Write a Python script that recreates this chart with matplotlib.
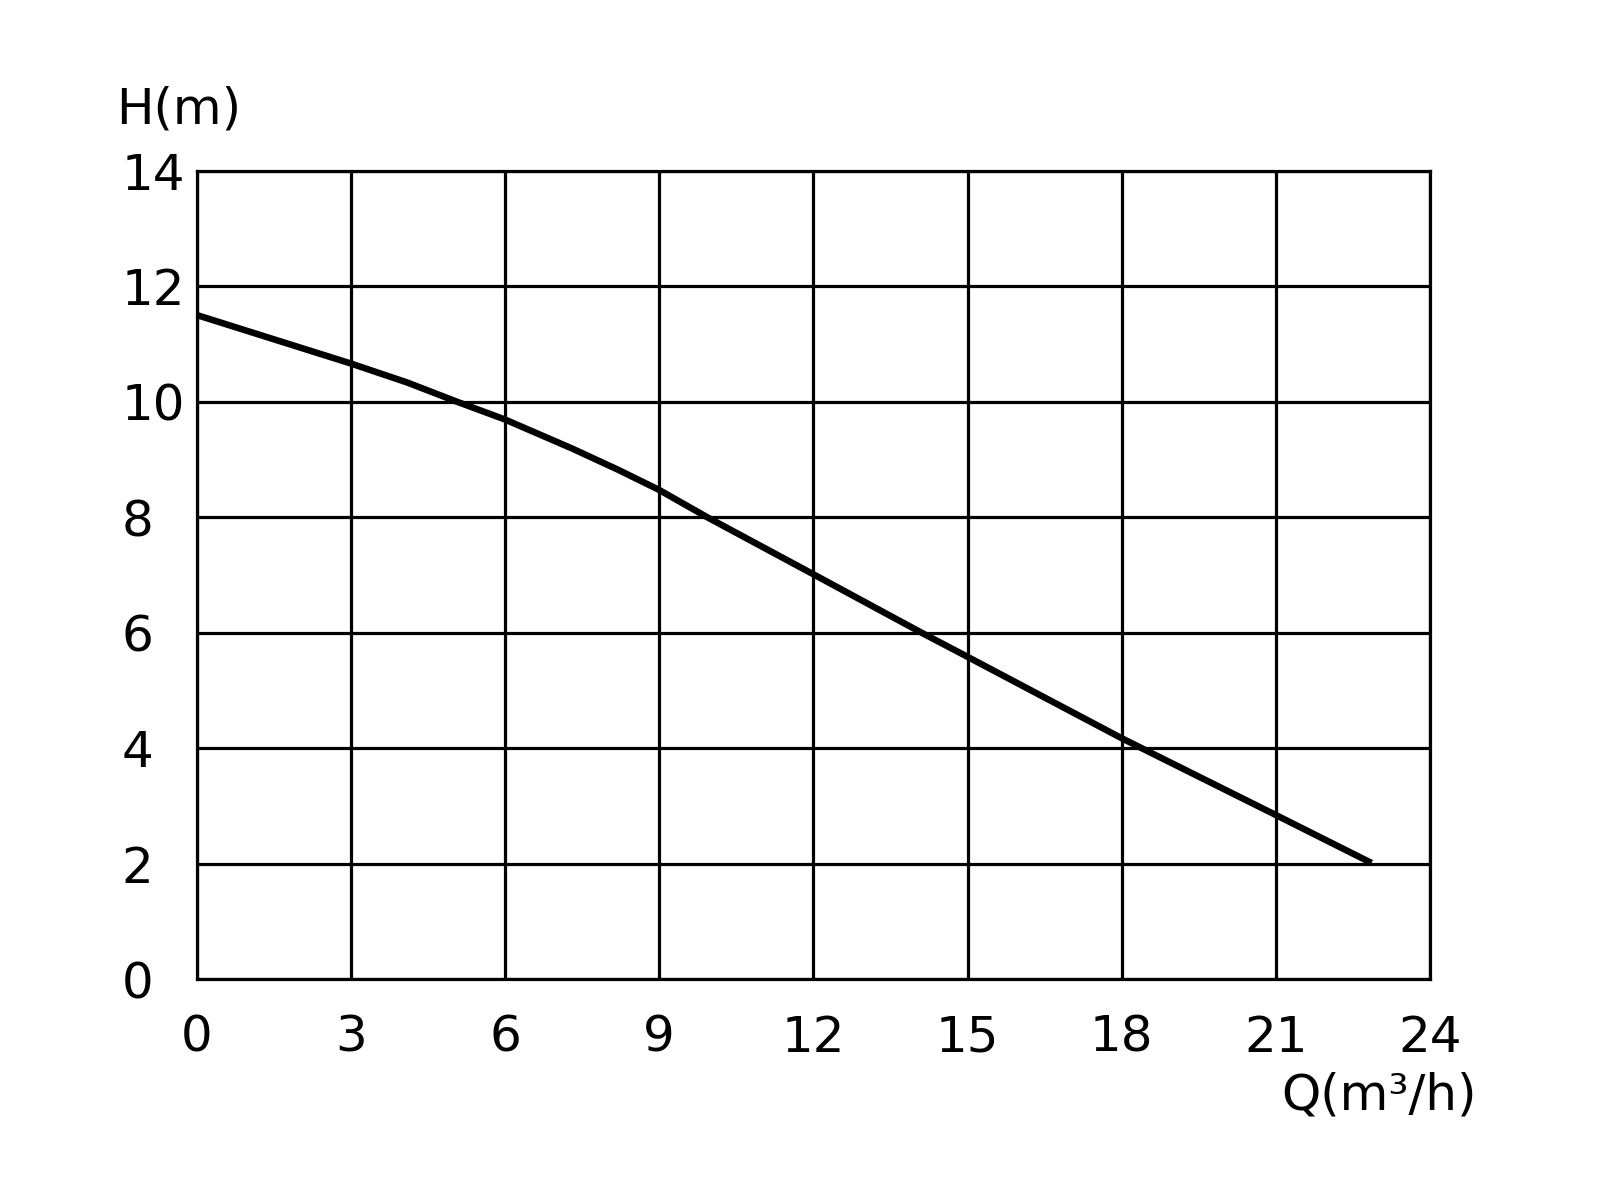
import matplotlib
matplotlib.use("Agg")
import matplotlib.pyplot as plt

# Data
flow_q = [0, 1.5, 3, 4.1, 5.06, 6, 7.3, 8.2, 9, 9.93, 12, 14.1, 15, 18, 21, 22.86]
head_h = [11.5, 11.08, 10.66, 10.33, 10.0, 9.69, 9.19, 8.82, 8.47, 8.0, 7.01, 6.0, 5.58, 4.17, 2.84, 2.01]
x_ticks = [0, 3, 6, 9, 12, 15, 18, 21, 24]
y_ticks = [0, 2, 4, 6, 8, 10, 12, 14]
x_label = "Q(m³/h)"
y_label = "H(m)"

plt.rcParams['font.family'] = ['DejaVu Sans']
fig = plt.figure(figsize=(16, 11.9), dpi=100)
ax = fig.add_axes([0.1229, 0.1773, 0.7709, 0.6793])

ax.plot(flow_q, head_h, color='black', linewidth=4.7, solid_capstyle='butt',
        solid_joinstyle='round', zorder=3)

ax.set_xlim(0, 24)
ax.set_ylim(0, 14)
ax.set_xticks(x_ticks)
ax.set_yticks(y_ticks)
ax.grid(True, color='black', linewidth=2.3)
for s in ax.spines.values():
    s.set_linewidth(2.3)
    s.set_color('black')
ax.tick_params(axis='both', length=0, labelsize=36)
ax.tick_params(axis='x', pad=25)
ax.tick_params(axis='y', pad=54)
for lab in ax.get_yticklabels():
    lab.set_horizontalalignment('left')

fig.text(179 / 1600, 1 - 110 / 1190, y_label, fontsize=36, ha='center', va='center')
fig.text(1477 / 1600, 1 - 1095 / 1190, x_label, fontsize=36, ha='right', va='center')

fig.savefig("out.png", dpi=100, facecolor='white')
